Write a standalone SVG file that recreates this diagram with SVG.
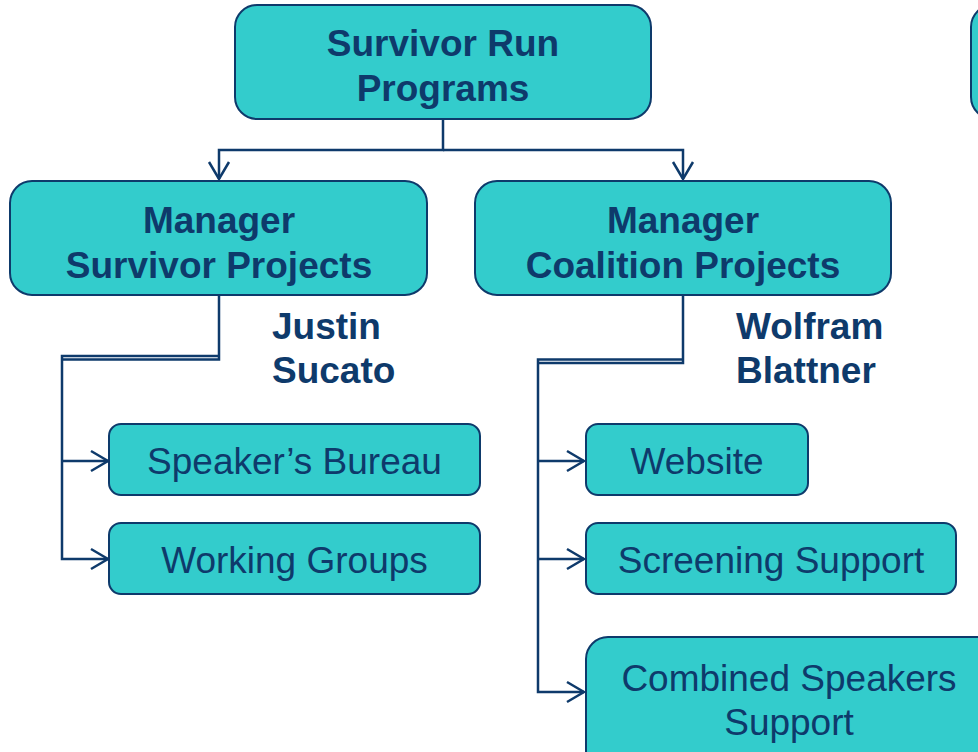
<svg xmlns="http://www.w3.org/2000/svg" width="978" height="752" viewBox="0 0 978 752">
<defs>
<marker id="arr" viewBox="-20 -12 22 24" markerWidth="22" markerHeight="24" refX="0" refY="0" orient="auto" markerUnits="userSpaceOnUse">
<path d="M-17,-10 L0,0 L-17,10" fill="none" stroke="#0E3A6B" stroke-width="2.5"/>
</marker>
<style>
.box{fill:#33CCCC;stroke:#0E3A6B;stroke-width:2}
.h{font-family:"Liberation Sans",Arial,sans-serif;font-weight:bold;font-size:37px;fill:#0E3A6B}
.t{font-family:"Liberation Sans",Arial,sans-serif;font-size:37px;fill:#0E3A6B}
.c{fill:none;stroke:#0E3A6B;stroke-width:2.5}
</style>
</defs>
<rect width="978" height="752" fill="#FFFFFF"/>
<g id="connectors">
<path class="c" d="M443 119 V150 H219 V179" marker-end="url(#arr)"/>
<path class="c" d="M443 150 H683 V179" marker-end="url(#arr)"/>
<path class="c" d="M219 295 V359.5 H62"/>
<path class="c" d="M219 356 H62 V559 H108" marker-end="url(#arr)"/>
<path class="c" d="M62 461 H108" marker-end="url(#arr)"/>
<path class="c" d="M683 291 V363 H538"/>
<path class="c" d="M683 359.5 H538 V692 H584" marker-end="url(#arr)"/>
<path class="c" d="M538 461 H584" marker-end="url(#arr)"/>
<path class="c" d="M538 559 H584" marker-end="url(#arr)"/>
</g>
<g id="root">
<rect class="box" x="235" y="5" width="416" height="114" rx="22"/>
<text class="h" x="443" y="56" text-anchor="middle">Survivor Run</text>
<text class="h" x="443" y="101" text-anchor="middle">Programs</text>
</g>
<g id="offscreen">
<rect class="box" x="971" y="5" width="60" height="114" rx="22"/>
</g>
<g id="mgr-survivor">
<rect class="box" x="10" y="181" width="417" height="114" rx="22"/>
<text class="h" x="219" y="233" text-anchor="middle">Manager</text>
<text class="h" x="219" y="278" text-anchor="middle">Survivor Projects</text>
</g>
<g id="mgr-coalition">
<rect class="box" x="475" y="181" width="416" height="114" rx="22"/>
<text class="h" x="683" y="233" text-anchor="middle">Manager</text>
<text class="h" x="683" y="278" text-anchor="middle">Coalition Projects</text>
</g>
<g id="name-justin">
<text class="h" x="272" y="339">Justin</text>
<text class="h" x="272" y="383">Sucato</text>
</g>
<g id="name-wolfram">
<text class="h" x="736" y="339">Wolfram</text>
<text class="h" x="736" y="383">Blattner</text>
</g>
<g id="speakers-bureau">
<rect class="box" x="109" y="424" width="371" height="71" rx="12"/>
<text class="t" x="294.5" y="474" text-anchor="middle">Speaker’s Bureau</text>
</g>
<g id="working-groups">
<rect class="box" x="109" y="523" width="371" height="71" rx="12"/>
<text class="t" x="294.5" y="573" text-anchor="middle">Working Groups</text>
</g>
<g id="website">
<rect class="box" x="586" y="424" width="222" height="71" rx="12"/>
<text class="t" x="697" y="474" text-anchor="middle">Website</text>
</g>
<g id="screening-support">
<rect class="box" x="586" y="523" width="370" height="71" rx="12"/>
<text class="t" x="771" y="573" text-anchor="middle">Screening Support</text>
</g>
<g id="combined-speakers">
<rect class="box" x="586" y="637" width="420" height="140" rx="22"/>
<text class="t" x="789" y="691" text-anchor="middle">Combined Speakers</text>
<text class="t" x="789" y="735" text-anchor="middle">Support</text>
</g>
</svg>
